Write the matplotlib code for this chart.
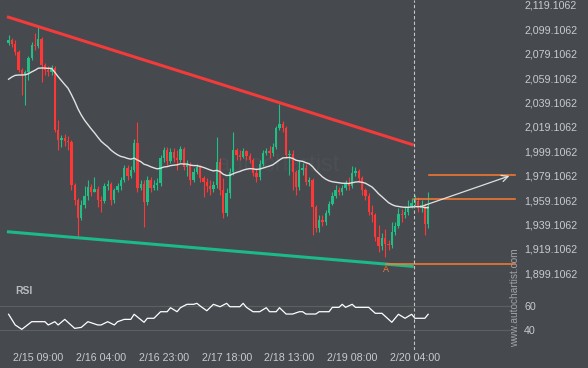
import numpy as np
import pandas as pd
import matplotlib
matplotlib.use("Agg")
import matplotlib.pyplot as plt

plt.rcParams.update({
    "font.family": ["Liberation Sans", "DejaVu Sans"],
    "font.size": 7.7,
})

BG = "#46494e"
TXT = "#c8cacc"
UP = "#1fbf86"
DOWN = "#ff3737"
ORANGE = "#ff7b2e"

# hourly candles, 2/15 00:00 .. 2/20 07:00 (index = candle number)
first_open = 2087.9
closes = [
    2090.4, 2087.1, 2080.6, 2065.8, 2061.7, 2064.2, 2075.6, 2086.3, 2085.5, 2091.2,
    2069.9, 2065.8, 2064.2, 2067.4, 2016.6, 2008.4, 2010.0, 2007.6, 2006.8, 1971.5,
    1959.2, 1944.4, 1955.1, 1962.5, 1969.9, 1965.8, 1968.2, 1959.2, 1958.4, 1970.7,
    1972.3, 1959.2, 1967.4, 1970.7, 1975.6, 1985.4, 1978.9, 1983.8, 2005.9, 1969.0,
    1972.3, 1957.6, 1975.6, 1969.0, 1971.5, 1973.1, 1993.6, 2000.2, 1991.2, 1998.6,
    1993.6, 1992.0, 2001.0, 1986.3, 1987.9, 1975.6, 1982.2, 1986.3, 1977.2, 1974.0,
    1970.7, 1968.2, 1971.5, 1990.4, 1967.4, 1948.5, 1964.9, 1982.2, 2000.2, 1996.1,
    1994.5, 1999.4, 1995.3, 1992.0, 1981.3, 1978.1, 1988.7, 1997.7, 1999.4, 1997.7,
    2002.7, 2018.2, 2021.5, 2018.2, 1996.1, 1996.9, 1982.2, 1969.9, 1983.8, 1985.4,
    1974.0, 1975.6, 1953.5, 1936.2, 1942.8, 1941.2, 1948.5, 1955.9, 1962.5, 1967.4,
    1965.8, 1969.0, 1972.3, 1970.7, 1981.3, 1983.0, 1977.2, 1967.4, 1962.5, 1949.4,
    1946.9, 1928.9, 1921.5, 1928.0, 1923.1, 1922.3, 1933.0, 1937.9, 1947.7, 1946.9,
    1949.4, 1953.5, 1956.7, 1958.4, 1952.6, 1955.1, 1939.5, 1954.3,
]
highs = [
    2094.5, 2092.0, 2090.4, 2082.2, 2067.4, 2065.8, 2077.3, 2088.8, 2096.1, 2101.1,
    2092.9, 2071.5, 2069.1, 2069.9, 2069.1, 2024.8, 2012.5, 2013.3, 2011.7, 2008.4,
    1973.1, 1960.8, 1959.2, 1970.7, 1975.6, 1972.3, 1978.1, 1970.7, 1962.5, 1973.1,
    1975.6, 1974.0, 1969.0, 1973.1, 1978.1, 1987.9, 1987.9, 1987.1, 2009.2, 2023.2,
    1975.6, 1975.6, 1978.9, 1978.1, 1975.6, 1977.2, 1996.1, 2002.7, 2002.7, 2001.8,
    2001.8, 2000.2, 2003.5, 2002.7, 1992.0, 1990.4, 1985.4, 1988.7, 1987.9, 1978.9,
    1977.2, 1975.6, 1974.8, 2010.9, 1993.6, 1977.2, 1969.0, 1985.4, 2015.0, 2001.8,
    2000.2, 2001.8, 2000.2, 1997.7, 1993.6, 1985.4, 1992.0, 2000.2, 2001.8, 2003.5,
    2005.9, 2019.9, 2037.9, 2024.0, 2019.9, 2000.2, 2000.2, 1983.8, 1992.0, 1989.5,
    1988.7, 1978.1, 1977.2, 1955.1, 1946.9, 1946.9, 1951.0, 1958.4, 1965.8, 1971.5,
    1969.9, 1971.5, 1975.6, 1978.1, 1987.1, 1986.3, 1984.6, 1978.9, 1969.0, 1964.9,
    1955.1, 1948.5, 1938.7, 1932.1, 1935.4, 1926.4, 1941.2, 1941.2, 1952.6, 1951.8,
    1954.3, 1959.2, 1960.8, 1963.3, 1961.7, 1959.2, 1956.7, 1965.8,
]
lows = [
    2086.3, 2084.7, 2078.1, 2064.2, 2045.3, 2037.1, 2057.6, 2074.0, 2082.2, 2083.8,
    2056.0, 2061.7, 2060.9, 2061.7, 2015.0, 2000.2, 2002.7, 2003.5, 2000.2, 1967.4,
    1955.1, 1928.9, 1942.8, 1952.6, 1959.2, 1962.5, 1965.8, 1953.5, 1949.4, 1956.7,
    1967.4, 1955.1, 1956.7, 1965.8, 1967.4, 1974.0, 1975.6, 1977.2, 1982.2, 1965.8,
    1967.4, 1937.1, 1955.1, 1965.8, 1967.4, 1967.4, 1970.7, 1990.4, 1987.9, 1989.5,
    1990.4, 1983.8, 1990.4, 1983.8, 1978.9, 1971.5, 1974.0, 1980.5, 1974.0, 1961.7,
    1965.8, 1963.3, 1965.8, 1969.0, 1963.3, 1944.4, 1946.1, 1960.8, 1979.7, 1992.0,
    1992.0, 1993.6, 1992.0, 1989.5, 1978.9, 1974.0, 1975.6, 1987.1, 1996.1, 1993.6,
    1995.3, 2001.0, 2016.6, 2015.0, 1993.6, 1979.7, 1967.4, 1963.3, 1967.4, 1979.7,
    1971.5, 1970.7, 1930.5, 1932.9, 1932.9, 1937.9, 1938.7, 1946.9, 1955.1, 1960.8,
    1963.3, 1963.3, 1967.4, 1967.4, 1969.0, 1978.9, 1974.0, 1963.3, 1959.2, 1946.9,
    1941.2, 1925.6, 1916.6, 1918.2, 1912.5, 1918.2, 1919.8, 1930.5, 1936.2, 1941.2,
    1944.4, 1946.9, 1952.6, 1955.1, 1949.4, 1949.4, 1930.5, 1936.2,
]
ma_start = 2056.0

rsi_idx = [0, 2, 4, 7, 11, 12, 14, 15, 17, 20, 22, 24, 27, 28, 30, 32, 33, 35, 37, 38,
           41, 42, 44, 46, 48, 49, 51, 52, 54, 56, 57, 58, 60, 62, 64, 66, 67, 70, 71, 72,
           74, 76, 78, 79, 81, 82, 84, 86, 88, 89, 90, 93, 94, 97, 98, 100, 101, 102, 104,
           105, 109, 111, 113, 116, 118, 120, 122, 123, 126, 127]
rsi_val = [53.2, 44.4, 40.8, 47.1, 47.1, 44.4, 47.1, 44.4, 49.0, 41.6, 42.4, 47.1, 44.4, 44.4,
           47.1, 44.4, 47.1, 49.0, 49.0, 53.2, 46.6, 49.9, 49.9, 55.3, 55.3, 58.6, 55.3, 58.6,
           61.4, 61.4, 62.2, 60.0, 56.1, 61.4, 59.4, 62.2, 59.4, 59.4, 62.2, 58.9, 55.3, 55.3,
           58.6, 55.3, 55.3, 58.6, 53.4, 53.4, 55.3, 55.3, 53.4, 53.4, 55.3, 55.3, 58.9, 58.9,
           61.4, 58.9, 61.4, 58.9, 58.9, 54.0, 54.0, 46.6, 53.2, 49.9, 53.2, 49.9, 49.9, 53.2]

tick_pos = [9, 28, 47, 66, 85, 104, 123]
tick_labels = ["2/15 09:00", "2/16 04:00", "2/16 23:00", "2/17 18:00",
               "2/18 13:00", "2/19 08:00", "2/20 04:00"]
price_ticks = [2119.1062 - 20 * k for k in range(12)]

resist_x, resist_y = [-0.5, 122.6], [2109.5, 2004.3]
support_x, support_y = [-0.5, 122.6], [1933.2, 1904.7]
breakout_level, breakout_x = 1960.0, [122.6, 153.3]
target_level, target_x = 1979.8, [127.2, 153.3]
low_level, low_x = 1906.7, [114.2, 153.3]
arrow_from, arrow_to = (124.5, 1953.5), (152.4, 1979.7)
now_idx = 122.6

closes = np.array(closes)
opens = np.r_[first_open, closes[:-1]]
highs, lows = np.array(highs), np.array(lows)
idx = np.arange(len(closes))
ma = pd.Series(np.r_[ma_start, closes]).ewm(span=30, adjust=False).mean().values[1:]

fig = plt.figure(figsize=(5.88, 3.68), dpi=100, facecolor=BG)
ax = fig.add_axes([0, 1 - 280 / 368, 520 / 588, 280 / 368], facecolor=BG)
ax2 = fig.add_axes([0, 1 - 350 / 368, 520 / 588, 70 / 368], facecolor=BG)

for a in (ax, ax2):
    for s in a.spines.values():
        s.set_visible(False)
    a.set_xlim(-2.6, 154.8)
    a.yaxis.tick_right()
    a.tick_params(length=0, colors=TXT, labelsize=7.7, pad=3)

# watermark
ax.text(81.5, 1988, "autochartist", color="#4c5055", fontsize=17, ha="center",
        va="center", zorder=0)

# candles
cols = np.where(closes >= opens, UP, DOWN)
ax.vlines(idx, lows, highs, colors=cols, lw=0.8, zorder=2)
body_lo = np.minimum(opens, closes)
body_h = np.maximum(np.abs(closes - opens), 0.6)
ax.bar(idx, body_h, bottom=body_lo, width=0.7, color=cols, lw=0, zorder=3)

ax.plot(idx, ma, color="#e2e2e2", lw=1.0, zorder=4)

# pattern lines
ax.plot(resist_x, resist_y, color="#f23b3b", lw=2.2, zorder=5, solid_capstyle="butt")
ax.plot(support_x, support_y, color="#1cb98a", lw=2.2, zorder=5, solid_capstyle="butt")
ax.plot(breakout_x, [breakout_level] * 2, color=ORANGE, lw=1.1, zorder=5)
ax.plot(target_x, [target_level] * 2, color=ORANGE, lw=1.1, zorder=5)
ax.plot(low_x, [low_level] * 2, color=ORANGE, lw=1.1, zorder=5)
ax.text(low_x[0], 1901.8, "A", color=ORANGE, fontsize=6.5, ha="center", va="center")
ax.annotate("", xy=arrow_to, xytext=arrow_from,
            arrowprops=dict(arrowstyle="->,head_length=0.6,head_width=0.3",
                            color="#e0e0e0", lw=0.9), zorder=6)

ax.set_ylim(1893.6, 2123.2)
ax.set_yticks(price_ticks)
ax.set_yticklabels([f"{p:,.4f}" for p in price_ticks])
ax.set_xticks([])

# RSI panel
ax2.axhline(60, color="#5c6160", lw=0.8, xmin=0.0, xmax=510 / 520)
ax2.axhline(40, color="#5c6160", lw=0.8, xmin=0.0, xmax=510 / 520)
ax2.plot(rsi_idx, rsi_val, color="white", lw=0.9)
ax2.set_ylim(23.8, 81.4)
ax2.set_yticks([60, 40])
ax2.set_xticks(tick_pos)
ax2.set_xticklabels(tick_labels)
ax2.tick_params(axis="x", pad=2)

for a in (ax, ax2):
    a.axvline(now_idx, color="#c4c4c4", lw=0.8, ls=(0, (3, 2)), zorder=7)

fig.text(15 / 588, 1 - 291 / 368, "RSI", color="#b8bcc0", fontsize=7.5,
         fontweight="bold", va="center", ha="left")
fig.text(515.5 / 588, 1 - 298 / 368, "www.autochartist.com", color="#a0a4a8",
         fontsize=7.3, rotation=90, ha="center", va="center")

fig.savefig("out.png", dpi=100, facecolor=BG)
